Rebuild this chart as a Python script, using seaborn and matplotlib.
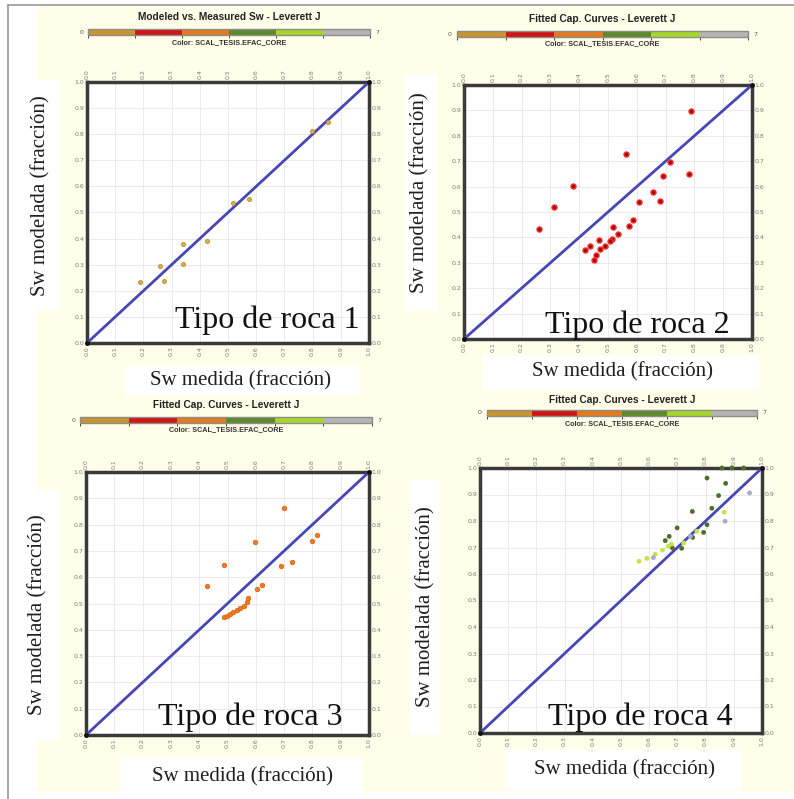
import numpy as np
import pandas as pd
import matplotlib
matplotlib.use("Agg")
import matplotlib.pyplot as plt
import matplotlib as mpl
from matplotlib.patches import Rectangle
from matplotlib.lines import Line2D
import seaborn as sns

# ---------------- data ----------------
diag = [0.0, 1.0]
ticks = [0.0, 0.1, 0.2, 0.3, 0.4, 0.5, 0.6, 0.7, 0.8, 0.9, 1.0]
tick_labels = ["0.0", "0.1", "0.2", "0.3", "0.4", "0.5", "0.6", "0.7", "0.8", "0.9", "1.0"]

cbar_colors = ["#C8952E", "#D01515", "#E47A1E", "#5C8A2A", "#A6D62A", "#B4B4B4"]
cbar_min, cbar_max = 0, 7

titles = ["Modeled vs. Measured Sw - Leverett J",
          "Fitted Cap. Curves - Leverett J",
          "Fitted Cap. Curves - Leverett J",
          "Fitted Cap. Curves - Leverett J"]
subtitle = "Color: SCAL_TESIS.EFAC_CORE"
rock_labels = ["Tipo de roca 1", "Tipo de roca 2", "Tipo de roca 3", "Tipo de roca 4"]
xlabel = "Sw medida (fracción)"
ylabel = "Sw modelada (fracción)"

# Rock type 1
r1_med = [0.187, 0.258, 0.273, 0.342, 0.342, 0.427, 0.518, 0.574, 0.798, 0.855]
r1_mod = [0.233, 0.296, 0.237, 0.378, 0.302, 0.389, 0.535, 0.553, 0.811, 0.847]

# Rock type 2
r2_med = [0.262, 0.314, 0.377, 0.562, 0.789, 0.714, 0.691, 0.780, 0.655, 0.680,
          0.609, 0.586, 0.572, 0.518, 0.536, 0.514, 0.508, 0.491, 0.473, 0.470,
          0.437, 0.421, 0.458, 0.450]
r2_mod = [0.434, 0.519, 0.604, 0.729, 0.899, 0.695, 0.642, 0.650, 0.578, 0.545,
          0.539, 0.468, 0.446, 0.442, 0.412, 0.392, 0.385, 0.368, 0.354, 0.391,
          0.367, 0.351, 0.330, 0.311]

# Rock type 3
r3_med = [0.427, 0.489, 0.598, 0.698, 0.797, 0.817, 0.690, 0.728, 0.605, 0.621,
          0.486, 0.498, 0.509, 0.521, 0.533, 0.545, 0.557, 0.568, 0.571]
r3_mod = [0.567, 0.647, 0.735, 0.864, 0.738, 0.762, 0.642, 0.659, 0.556, 0.571,
          0.447, 0.454, 0.460, 0.467, 0.474, 0.481, 0.491, 0.504, 0.522]

# Rock type 4 (several EFAC_CORE codes)
r4_med = [0.805, 0.871, 0.846, 0.753, 0.822, 0.699, 0.671, 0.657, 0.682, 0.715,
          0.754, 0.793, 0.805, 0.858, 0.893, 0.935,
          0.564, 0.592, 0.621, 0.647, 0.679, 0.722, 0.769, 0.866, 0.668,
          0.615, 0.869, 0.956, 0.746]
r4_mod = [0.962, 0.942, 0.896, 0.836, 0.848, 0.774, 0.742, 0.726, 0.699, 0.697,
          0.738, 0.757, 0.786, 1.000, 1.000, 1.000,
          0.648, 0.659, 0.675, 0.690, 0.713, 0.717, 0.761, 0.833, 0.705,
          0.662, 0.799, 0.906, 0.742]
r4_code = (["4"] * 16) + (["5"] * 9) + (["6"] * 4)
r4_palette = {"4": "#4E6E2C", "5": "#C4E44A", "6": "#A9A9D2"}

# ---------------- figure ----------------
W, H = 794, 799
sns.set_style("white")
plt.rcParams["font.family"] = ["DejaVu Sans"]
fig = plt.figure(figsize=(W / 100, H / 100), dpi=100)
fig.patch.set_facecolor("white")


def box(x0, y0, x1, y1):
    return [x0 / W, 1 - y1 / H, (x1 - x0) / W, (y1 - y0) / H]


def rect(x0, y0, x1, y1, color, z):
    b = box(x0, y0, x1, y1)
    fig.patches.append(Rectangle((b[0], b[1]), b[2], b[3], transform=fig.transFigure,
                                 facecolor=color, edgecolor="none", zorder=z))


yellow = "#FFFEE9"
# panel backgrounds
rect(37, 6, 404, 395, yellow, -3)
rect(404, 6, 794, 392, yellow, -3)
rect(37, 392, 404, 792, yellow, -3)
rect(404, 392, 794, 792, yellow, -3)

# outer frame lines
fig.add_artist(Line2D([8 / W, 8 / W], [0, 1 - 5 / H], transform=fig.transFigure, color="#9A9A9A", lw=1.2))
fig.add_artist(Line2D([8 / W, 1], [1 - 5 / H, 1 - 5 / H], transform=fig.transFigure, color="#9A9A9A", lw=1.2))

# panel geometry (pixels)
axes_px = [(87, 82, 369, 343), (464, 85, 752, 339), (86, 472, 369, 735), (480, 468, 762, 733)]
cbar_px = [(88, 29, 370, 35), (457, 31, 748, 37), (80, 417, 372, 423), (487, 410, 757, 416)]
title_y = [17, 19, 405, 400]
sub_y = [43, 44, 430, 424]
rock_pos = [(0.968, 0.057), (0.924, 0.024), (0.908, 0.038), (0.897, 0.030)]
ylab_box = [(27, 80, 60, 310), (405, 75, 437, 310), (22, 490, 60, 740), (410, 480, 440, 735)]
ylab_pos = [(41, 196), (420, 193), (38, 615), (426, 607)]
xlab_box = [(125, 366, 360, 396), (483, 355, 760, 390), (120, 757, 362, 792), (505, 750, 742, 790)]
xlab_pos = [(240, 381), (623, 372), (242, 777), (625, 770)]

cmap = mpl.colors.ListedColormap(cbar_colors)
bounds = np.linspace(cbar_min, cbar_max, len(cbar_colors) + 1)
norm = mpl.colors.BoundaryNorm(bounds, cmap.N)

serif = "Liberation Serif"

for i in range(4):
    # colour legend bar
    cb = cbar_px[i]
    cax = fig.add_axes(box(*cb))
    cbar = mpl.colorbar.ColorbarBase(cax, cmap=cmap, norm=norm, orientation="horizontal")
    cbar.set_ticks([])
    cbar.outline.set_edgecolor("#8C8C8C")
    cbar.outline.set_linewidth(1.0)
    cx = (cb[0] + cb[2]) / 2
    cy = (cb[1] + cb[3]) / 2
    fig.text((cb[0] - 5) / W, 1 - cy / H, str(cbar_min), ha="right", va="center", fontsize=4.5, color="#555555")
    fig.text((cb[2] + 5) / W, 1 - cy / H, str(cbar_max), ha="left", va="center", fontsize=4.5, color="#555555")
    fig.text(cx / W, 1 - title_y[i] / H, titles[i], ha="center", va="center",
             fontsize=7.3, fontweight="bold", family="Liberation Sans", color="#222222")
    fig.text(cx / W, 1 - sub_y[i] / H, subtitle, ha="center", va="center",
             fontsize=5.2, fontweight="bold", family="Liberation Sans", color="#333333")

    # axis label boxes
    rect(*ylab_box[i], "white", -1)
    rect(*xlab_box[i], "white", -1)
    fig.text(ylab_pos[i][0] / W, 1 - ylab_pos[i][1] / H, ylabel, rotation=90, ha="center", va="center",
             fontsize=15, family=serif, color="#1E1E1E")
    fig.text(xlab_pos[i][0] / W, 1 - xlab_pos[i][1] / H, xlabel, ha="center", va="center",
             fontsize=15, family=serif, color="#1E1E1E")

    # main axes
    ax = fig.add_axes(box(*axes_px[i]))
    ax.set_facecolor("white")
    sns.lineplot(x=diag, y=diag, ax=ax, color="#4646B4", lw=2.0, zorder=3)
    ax.scatter(diag, diag, s=6, color="#111111", zorder=4, clip_on=False)

    if i == 0:
        sns.scatterplot(x=r1_med, y=r1_mod, ax=ax, color="#D8B040", s=9, edgecolor="#B8882A",
                        linewidth=0.5, zorder=5)
    elif i == 1:
        sns.scatterplot(x=r2_med, y=r2_mod, ax=ax, color="#9A1010", s=13, edgecolor="#FF2A2A",
                        linewidth=1.0, zorder=5)
    elif i == 2:
        sns.scatterplot(x=r3_med, y=r3_mod, ax=ax, color="#F07820", s=11, edgecolor="#D86010",
                        linewidth=0.5, zorder=5)
    else:
        df4 = pd.DataFrame({"med": r4_med, "mod": r4_mod, "code": r4_code})
        sns.scatterplot(data=df4, x="med", y="mod", hue="code", palette=r4_palette, ax=ax,
                        s=12, edgecolor="none", legend=False, zorder=5, clip_on=False)

    ax.set_xlim(0, 1)
    ax.set_ylim(0, 1)
    ax.set_xticks(ticks)
    ax.set_yticks(ticks)
    ax.set_xticklabels(tick_labels)
    ax.set_yticklabels(tick_labels)
    ax.set_xlabel("")
    ax.set_ylabel("")
    ax.grid(True, color="#E6E6E6", lw=0.6, zorder=0)
    ax.set_axisbelow(True)
    ax.tick_params(left=True, right=True, top=True, bottom=True,
                   labelleft=True, labelright=True, labeltop=True, labelbottom=True,
                   length=0, labelsize=4.5, labelcolor="#7A7A7A", pad=2)
    ax.tick_params(axis="x", labelrotation=90)
    for s in ax.spines.values():
        s.set_color("#3A3A3A")
        s.set_linewidth(2.5)
        s.set_visible(True)

    ax.text(rock_pos[i][0], rock_pos[i][1], rock_labels[i], transform=ax.transAxes,
            ha="right", va="baseline", fontsize=23, family=serif, color="#111111", zorder=6)

fig.savefig("out.png", dpi=100)
